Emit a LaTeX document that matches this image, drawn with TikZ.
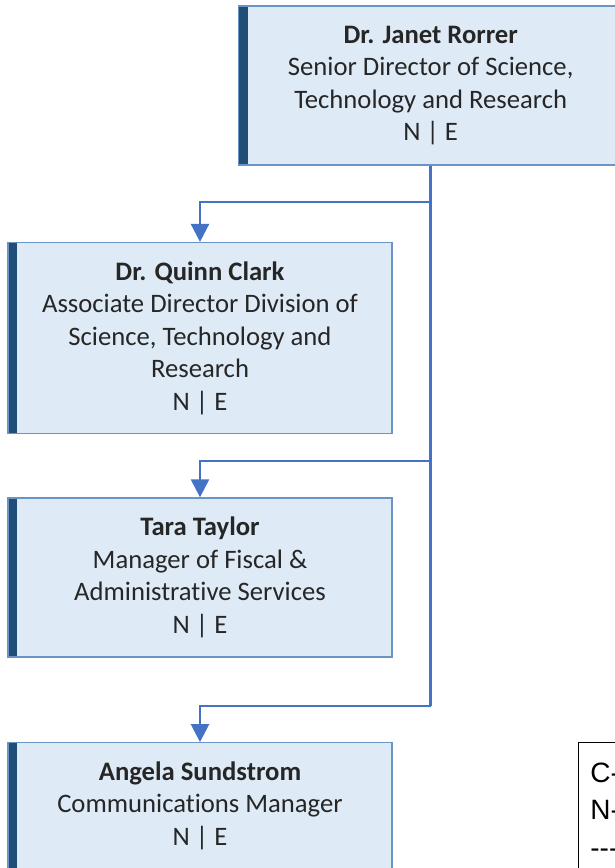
\documentclass[tikz,border=0pt]{standalone}
\usepackage{fontspec}
\setmainfont{Carlito}[Ligatures={TeX,NoCommon}]
\newfontfamily\legendfont{Liberation Sans}
\usetikzlibrary{arrows.meta, positioning}

\definecolor{boxfill}{HTML}{DEEBF7}
\definecolor{boxline}{HTML}{6A93C6}
\definecolor{barblue}{HTML}{1F4E79}
\definecolor{linkblue}{HTML}{4472C4}
\definecolor{inkgray}{HTML}{262626}

\tikzset{
role/.style={rectangle, draw=boxline, line width=1.2pt, fill=boxfill,
  minimum width=384pt, inner sep=0pt, align=center, text=inkgray,
  font=\fontsize{26.67}{32.5}\selectfont,
  path picture={\fill[barblue] (path picture bounding box.south west)
    rectangle ([xshift=9pt]path picture bounding box.north west);}},
legend/.style={rectangle, draw=black, line width=0.8pt, fill=white,
  anchor=north west, inner xsep=12pt, inner ysep=20.5pt, text width=80pt,
  align=left, font=\legendfont\fontsize{28}{37.5}\selectfont},
link/.style={draw=linkblue, line width=2.5pt},
linkarrow/.style={link, -{Triangle[width=18pt,length=18pt]}},
}

\begin{document}
\begin{tikzpicture}[x=1pt, y=-1pt]

\useasboundingbox (0,0) rectangle (615,868);
\clip (0,0) rectangle (615,868);

% Define nodes
\path (430.7,85.5)
node[role, minimum height=159pt] (rorrer)
  {\textbf{Dr. Janet Rorrer}\\Senior Director of Science,\\Technology and Research\\N | E}
(200,338)
node[role, minimum height=191pt] (clark)
  {\textbf{Dr. Quinn Clark}\\Associate Director Division of\\Science, Technology and\\Research\\N | E}
(200,577.4)
node[role, minimum height=159pt] (taylor)
  {\textbf{Tara Taylor}\\Manager of Fiscal \&\\Administrative Services\\N | E}
(200,805.7)
node[role, minimum height=126pt] (sundstrom)
  {\textbf{Angela Sundstrom}\\Communications Manager\\N | E}
(578,742) node[legend] (key) {C-\\N-\\-{}-{}-\rule[-50pt]{0pt}{50pt}}
(430.7,202) coordinate (fork1)
(430.7,461) coordinate (fork2)
(430.7,706) coordinate (fork3)
;

% Connectors
\draw[link] (rorrer.south) -- (fork3);
\draw[linkarrow] (fork1) -| (clark.north);
\draw[linkarrow] (fork2) -| (taylor.north);
\draw[linkarrow] (fork3) -| (sundstrom.north);

\end{tikzpicture}
\end{document}
